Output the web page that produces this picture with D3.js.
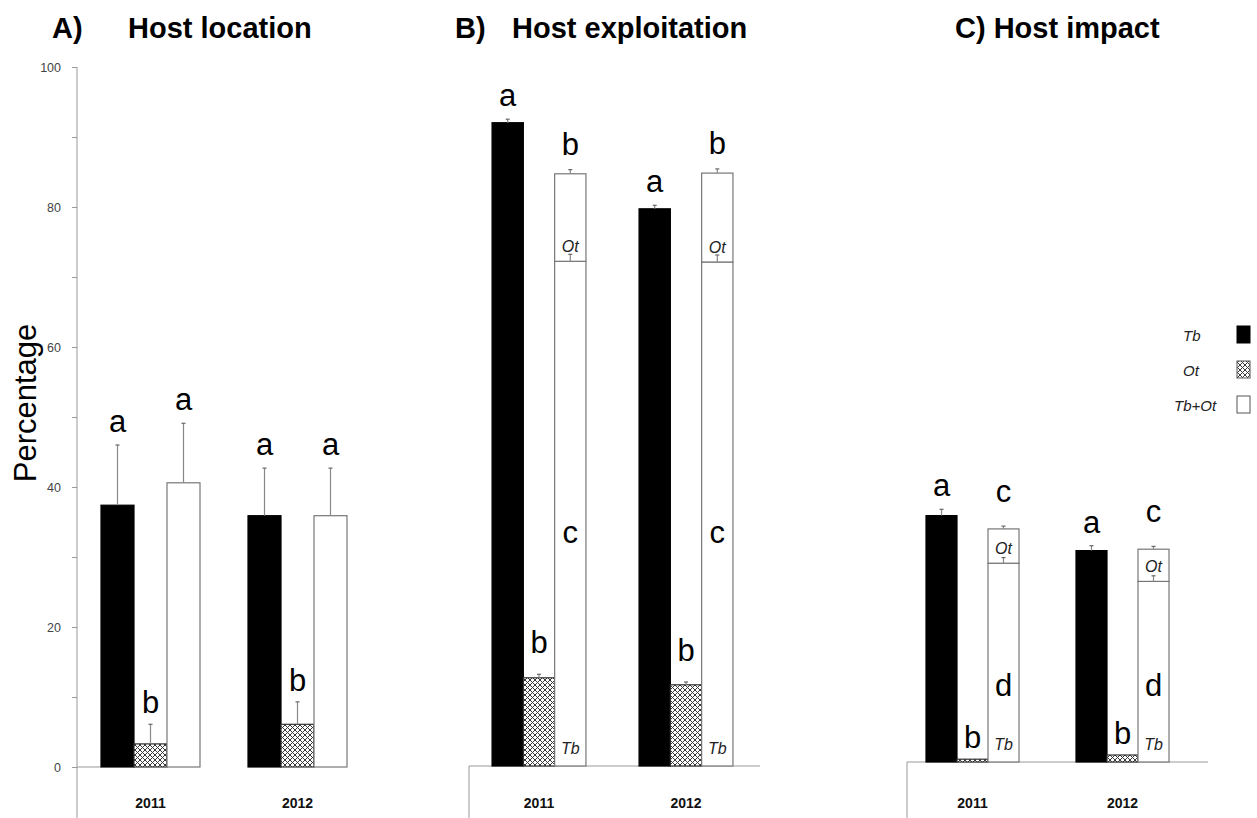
<!DOCTYPE html>
<html>
<head>
<meta charset="utf-8">
<script src="https://cdn.jsdelivr.net/npm/d3@7"></script>
<style>
  html, body { margin: 0; padding: 0; background: #fff; }
  svg { display: block; font-family: "Liberation Sans", Arial, sans-serif; }
</style>
</head>
<body>
<svg id="chart" width="1257" height="818"></svg>
<script>
// ---- data ----
const years = ["2011", "2012"];
const seriesNames = ["Tb", "Ot", "Tb+Ot"];
const yTickValues = [0, 10, 20, 30, 40, 50, 60, 70, 80, 90, 100];
const yTickLabels = ["0", "", "20", "", "40", "", "60", "", "80", "", "100"];

// A) Host location
const locTb = [37.4, 35.9];
const locTbErr = [8.6, 6.8];
const locOt = [3.3, 6.1];
const locOtErr = [2.8, 3.2];
const locBoth = [40.6, 35.9];
const locBothErr = [8.5, 6.8];
const locLetters = [["a", "a"], ["b", "b"], ["a", "a"]];

// B) Host exploitation
const expTb = [91.9, 79.6];
const expTbErr = [0.5, 0.5];
const expOt = [12.6, 11.6];
const expOtErr = [0.5, 0.4];
const expBoth = [84.6, 84.7];
const expBothErr = [0.6, 0.6];
const expBothTbPart = [72.1, 72.0];
const expBothTbPartErr = [1.0, 1.0];
const expLetters = [["a", "a"], ["b", "b"], ["b", "b"]];
const expInnerLetter = ["c", "c"];

// C) Host impact
const impTb = [35.2, 30.2];
const impTbErr = [0.9, 0.7];
const impOt = [0.4, 1.0];
const impOtErr = [0, 0];
const impBoth = [33.3, 30.4];
const impBothErr = [0.4, 0.4];
const impBothTbPart = [28.4, 25.8];
const impBothTbPartErr = [0.8, 0.8];
const impLetters = [["a", "a"], ["b", "b"], ["c", "c"]];
const impInnerLetter = ["d", "d"];

// ---- drawing ----
const svg = d3.select("#chart");
const defs = svg.append("defs");

// open cross-hatch: dark net with white holes
const hatch = defs.append("pattern")
  .attr("id", "crosshatch")
  .attr("patternUnits", "userSpaceOnUse")
  .attr("width", 5).attr("height", 5);
hatch.append("rect").attr("width", 5).attr("height", 5).attr("fill", "#fff");
hatch.append("path")
  .attr("d", "M0,0 L5,5 M5,0 L0,5 M-1,4 L1,6 M4,-1 L6,1 M4,6 L6,4 M-1,1 L1,-1")
  .attr("stroke", "#3a3a3a").attr("stroke-width", 1);

const fills = ["#000", "url(#crosshatch)", "#fff"];
const strokes = ["#000", "#333", "#777"];

function errorBar(g, x, yTop, yBar) {
  g.append("line")
    .attr("x1", x).attr("x2", x)
    .attr("y1", yBar).attr("y2", yTop)
    .attr("stroke", "#888").attr("stroke-width", 1.2);
  g.append("line")
    .attr("x1", x - 2).attr("x2", x + 2)
    .attr("y1", yTop).attr("y2", yTop)
    .attr("stroke", "#666").attr("stroke-width", 1.2);
}

function drawPanel(p) {
  const g = svg.append("g");
  const y = d3.scaleLinear().domain([0, 100]).range([p.base, p.base - 700]);
  const xg = d3.scalePoint().domain(years).range(p.centers);
  const xs = d3.scaleBand().domain(seriesNames).range([-1.5 * p.barW, 1.5 * p.barW]);

  // axes
  if (p.yAxis) {
    const ax = g.append("g")
      .attr("transform", `translate(${p.axisX},0)`)
      .call(d3.axisLeft(y)
        .tickValues(yTickValues)
        .tickFormat((d, i) => yTickLabels[i])
        .tickSize(5).tickSizeOuter(0).tickPadding(11));
    ax.select(".domain").remove();
    ax.selectAll(".tick line").attr("stroke", "#999");
    ax.selectAll(".tick text")
      .attr("fill", "#444").attr("font-size", 12.5)
      .attr("font-family", "Liberation Sans, Arial, sans-serif");
    g.append("line")
      .attr("x1", p.axisX).attr("x2", p.axisX)
      .attr("y1", y(100)).attr("y2", 818)
      .attr("stroke", "#999").attr("stroke-width", 1);
    g.append("line")
      .attr("x1", p.axisX).attr("x2", xg(years[0]) + xs("Tb"))
      .attr("y1", p.base).attr("y2", p.base)
      .attr("stroke", "#999").attr("stroke-width", 1);
  } else {
    g.append("line")
      .attr("x1", p.axisX).attr("x2", p.axisX)
      .attr("y1", p.base).attr("y2", 818)
      .attr("stroke", "#999").attr("stroke-width", 1);
    g.append("line")
      .attr("x1", p.axisX).attr("x2", p.axisEnd)
      .attr("y1", p.base).attr("y2", p.base)
      .attr("stroke", "#999").attr("stroke-width", 1);
  }

  const vals = [p.tb, p.ot, p.both];
  const errs = [p.tbErr, p.otErr, p.bothErr];

  years.forEach((yr, i) => {
    seriesNames.forEach((s, k) => {
      const x0 = xg(yr) + xs(s);
      const w = xs.bandwidth();
      const v = vals[k][i];
      const cx = x0 + w / 2;
      const stacked = k === 2 && p.bothTbPart;

      if (stacked) {
        const part = p.bothTbPart[i];
        g.append("rect")
          .attr("x", x0).attr("y", y(part))
          .attr("width", w).attr("height", y(0) - y(part))
          .attr("fill", "#fff").attr("stroke", "#777").attr("stroke-width", 1.2);
        g.append("rect")
          .attr("x", x0).attr("y", y(v))
          .attr("width", w).attr("height", y(part) - y(v))
          .attr("fill", "#fff").attr("stroke", "#777").attr("stroke-width", 1.2);
        errorBar(g, cx, y(part + p.bothTbPartErr[i]), y(part));
        // segment labels
        g.append("text").attr("x", cx).attr("y", y(part) - 9)
          .attr("text-anchor", "middle").attr("font-style", "italic")
          .attr("font-size", 16).attr("fill", "#222").text("Ot");
        g.append("text").attr("x", cx).attr("y", p.base - 12)
          .attr("text-anchor", "middle").attr("font-style", "italic")
          .attr("font-size", 16).attr("fill", "#222").text("Tb");
        g.append("text").attr("x", cx).attr("y", p.innerY)
          .attr("text-anchor", "middle")
          .attr("font-size", 31).attr("fill", "#000").text(p.inner[i]);
      } else {
        g.append("rect")
          .attr("x", x0).attr("y", y(v))
          .attr("width", w).attr("height", y(0) - y(v))
          .attr("fill", fills[k]).attr("stroke", strokes[k]).attr("stroke-width", 1.2);
      }

      const e = errs[k][i];
      if (e > 0) errorBar(g, cx, y(v + e), y(v));

      g.append("text")
        .attr("x", cx).attr("y", y(v + e) - p.letterGap[k])
        .attr("text-anchor", "middle")
        .attr("font-size", 31).attr("fill", "#000")
        .text(p.letters[k][i]);
    });

    g.append("text")
      .attr("x", xg(yr)).attr("y", 808)
      .attr("text-anchor", "middle")
      .attr("font-size", 14).attr("font-weight", "bold").attr("fill", "#111")
      .text(yr);
  });

  // panel title
  p.title.forEach(t => {
    g.append("text").attr("x", t.x).attr("y", 38)
      .attr("font-size", 29).attr("font-weight", "bold").attr("fill", "#000")
      .text(t.text);
  });
}

drawPanel({
  base: 767, centers: [150.5, 297.5], barW: 33, yAxis: true, axisX: 77,
  tb: locTb, tbErr: locTbErr, ot: locOt, otErr: locOtErr,
  both: locBoth, bothErr: locBothErr, bothTbPart: null,
  letters: locLetters, letterGap: [13, 11, 13],
  title: [{ x: 52, text: "A)" }, { x: 128, text: "Host location" }]
});

drawPanel({
  base: 766, centers: [539, 686], barW: 31.3, yAxis: false, axisX: 469, axisEnd: 760,
  tb: expTb, tbErr: expTbErr, ot: expOt, otErr: expOtErr,
  both: expBoth, bothErr: expBothErr,
  bothTbPart: expBothTbPart, bothTbPartErr: expBothTbPartErr,
  inner: expInnerLetter, innerY: 543,
  letters: expLetters, letterGap: [13, 21, 15],
  title: [{ x: 455, text: "B)" }, { x: 512, text: "Host exploitation" }]
});

drawPanel({
  base: 762, centers: [972.5, 1122.5], barW: 31, yAxis: false, axisX: 907, axisEnd: 1208,
  tb: impTb, tbErr: impTbErr, ot: impOt, otErr: impOtErr,
  both: impBoth, bothErr: impBothErr,
  bothTbPart: impBothTbPart, bothTbPartErr: impBothTbPartErr,
  inner: impInnerLetter, innerY: 696,
  letters: impLetters, letterGap: [13, 11, 24],
  title: [{ x: 955, text: "C) Host impact" }]
});

// y-axis title
svg.append("text")
  .attr("transform", "translate(36,403) rotate(-90)")
  .attr("text-anchor", "middle")
  .attr("font-size", 31).attr("fill", "#000")
  .text("Percentage");

// legend
const legend = svg.append("g");
const legendRows = d3.scaleBand().domain(seriesNames).range([326, 431]);
seriesNames.forEach((s, k) => {
  const yy = legendRows(s);
  legend.append("rect")
    .attr("x", 1237).attr("y", yy).attr("width", 13).attr("height", 17)
    .attr("fill", fills[k]).attr("stroke", k === 0 ? "#000" : "#555").attr("stroke-width", 1);
  legend.append("text")
    .attr("x", s === "Tb+Ot" ? 1174 : 1183).attr("y", yy + 15)
    .attr("font-style", "italic").attr("font-size", 15).attr("fill", "#222")
    .text(s);
});
</script>
</body>
</html>
